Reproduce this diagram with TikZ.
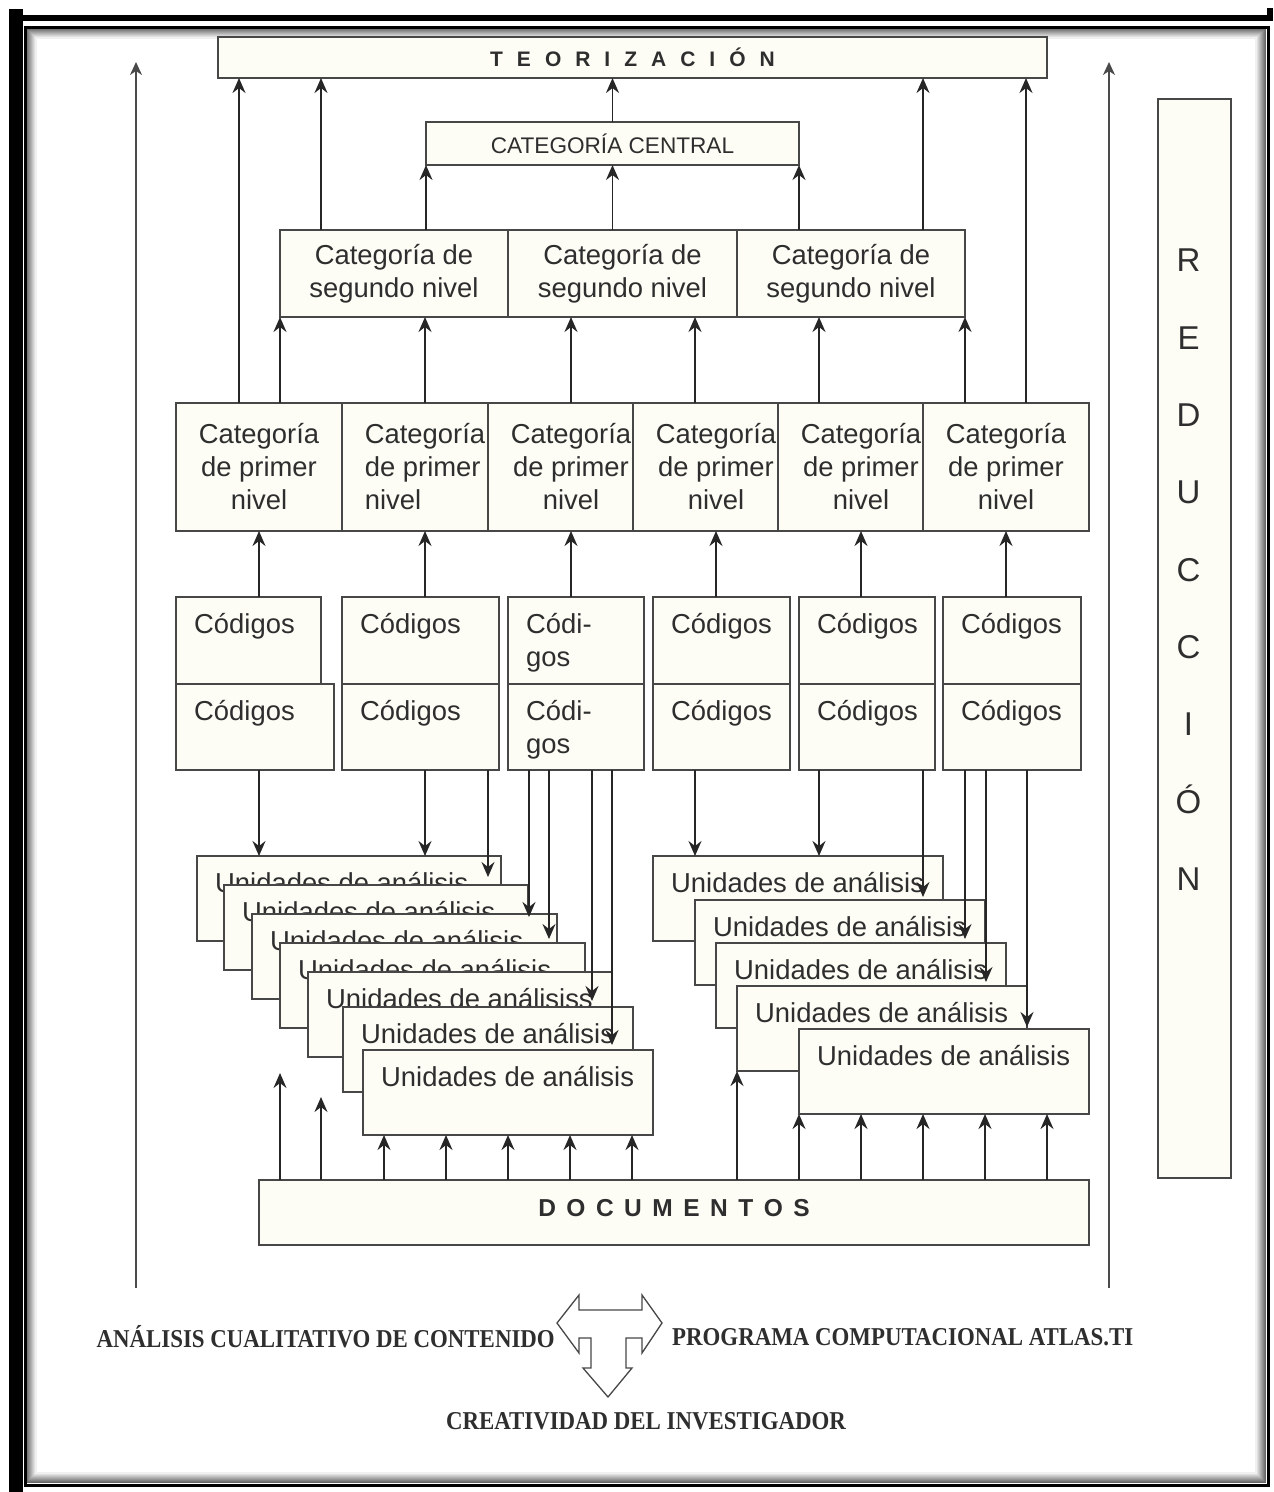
\documentclass[tikz,border=0pt]{standalone}
\usepackage{fontspec}
\setmainfont{Liberation Sans}
\newfontfamily\footserif{Liberation Serif}
\usepackage{graphicx}
\usepackage{tikz}
\usetikzlibrary{
  arrows.meta,
  positioning,
}
\definecolor{boxFill}{HTML}{FDFDF6}
\definecolor{boxLine}{HTML}{474747}
\definecolor{arrowCol}{HTML}{262626}
\definecolor{inkCol}{HTML}{2E2E2E}
\definecolor{guideCol}{HTML}{4A4A4A}
\newcommand\unitfont{\fontsize{27.4}{33}\selectfont}
\newcommand\titlefont{\fontsize{21}{25}\selectfont\bfseries}
\newcommand\centralfont{\fontsize{22.6}{26}\selectfont}
\newcommand\reducfont{\fontsize{33}{77.3}\selectfont}
\newcommand\footfont{\footserif\bfseries\fontsize{25.7}{30}\selectfont}
\tikzset{
  box/.style={
    rectangle, draw=boxLine, line width=2pt, fill=boxFill,
    inner sep=0pt, outer sep=0pt, anchor=north west,
    text=inkCol, align=center, font=\unitfont,
  },
  primbox/.style={box, minimum width=166pt, minimum height=128pt},
  segbox/.style={box, minimum height=87pt},
  codbox/.style={box, minimum height=87pt},
  cardbox/.style={box, minimum width=290pt, minimum height=85pt},
  boxTxt/.style={
    anchor=north west, inner xsep=18pt, inner ysep=16pt,
    align=left, font=\unitfont, text=inkCol,
  },
  reducTxt/.style={
    anchor=north, inner sep=0pt, yshift=-150pt, xshift=-6pt,
    align=center, font=\reducfont, text=inkCol,
  },
  arrowMed/.style={
    -{Stealth[length=15pt,width=13pt,inset=5pt]}, line width=1.9pt, draw=arrowCol,
  },
  arrowLong/.style={
    -{Stealth[length=13pt,width=12pt,inset=4pt]}, line width=1.4pt, draw=guideCol,
  },
  footTxt/.style={font=\footfont, text=inkCol, inner sep=0pt},
}

\begin{document}
\begin{tikzpicture}[x=1pt, y=-1pt]

% page and frame
\fill[white] (0,0) rectangle (1274,1492);
\fill[black] (9,9) rectangle (23,1492);
\fill[black] (9,15) rectangle (1273,21);
\fill[black] (1267,8) rectangle (1273,21);
\foreach \k in {1,...,10}{
  \pgfmathtruncatemacro\rimTone{66-6*\k}
  \draw[black!\rimTone, line width=1.2pt] (26+\k,28+\k) rectangle (1266-\k,1483-\k);
}
\draw[black, line width=3pt] (25,27) rectangle (1268,1485);

% top levels
\node[box, minimum width=829pt, minimum height=41pt, font=\titlefont] (teo) at (218,37)
  {{\spaceskip=14pt T E O R I Z A C I Ó N}};
\node[box, minimum width=373pt, minimum height=43pt, font=\centralfont] (central) at (426,122)
  {CATEGORÍA CENTRAL};

\node[segbox, minimum width=228pt] (seg1) at (280,230) {Categoría de\\segundo nivel};
\node[segbox, minimum width=229pt, right=0pt of seg1] (seg2) {Categoría de\\segundo nivel};
\node[segbox, minimum width=228pt, right=0pt of seg2] (seg3) {Categoría de\\segundo nivel};

\node[primbox] (prim1) at (176,403) {Categoría\\de primer\\nivel};
\node[primbox, align=left, right=0pt of prim1] (prim2) {Categoría\\de primer\\nivel};
\node[primbox, right=-20pt of prim2] (prim3) {Categoría\\de primer\\nivel};
\node[primbox, right=-21pt of prim3] (prim4) {Categoría\\de primer\\nivel};
\node[primbox, right=-21pt of prim4] (prim5) {Categoría\\de primer\\nivel};
\node[primbox, right=-21pt of prim5] (prim6) {Categoría\\de primer\\nivel};

% codes
\node[codbox, minimum width=145pt, label={[boxTxt]north west:Códigos}] (codA1) at (176,597) {};
\node[codbox, minimum width=157pt, label={[boxTxt]north west:Códigos}] (codA2) at (342,597) {};
\node[codbox, minimum width=136pt, label={[boxTxt]north west:{Códi-\\gos}}] (codA3) at (508,597) {};
\node[codbox, minimum width=137pt, label={[boxTxt]north west:Códigos}] (codA4) at (653,597) {};
\node[codbox, minimum width=136pt, label={[boxTxt]north west:Códigos}] (codA5) at (799,597) {};
\node[codbox, minimum width=138pt, label={[boxTxt]north west:Códigos}] (codA6) at (943,597) {};

\node[codbox, minimum width=158pt, minimum height=86pt, label={[boxTxt]north west:Códigos}] (codB1) at (codA1.south west) {};
\node[codbox, minimum width=157pt, minimum height=86pt, label={[boxTxt]north west:Códigos}] (codB2) at (codA2.south west) {};
\node[codbox, minimum width=136pt, minimum height=86pt, label={[boxTxt]north west:{Códi-\\gos}}] (codB3) at (codA3.south west) {};
\node[codbox, minimum width=137pt, minimum height=86pt, label={[boxTxt]north west:Códigos}] (codB4) at (codA4.south west) {};
\node[codbox, minimum width=136pt, minimum height=86pt, label={[boxTxt]north west:Códigos}] (codB5) at (codA5.south west) {};
\node[codbox, minimum width=138pt, minimum height=86pt, label={[boxTxt]north west:Códigos}] (codB6) at (codA6.south west) {};

% units of analysis, left stack
\node[cardbox, minimum width=304pt, label={[boxTxt]north west:Unidades de análisis}] (ua1) at (197,856) {};
\node[cardbox, minimum width=304pt, label={[boxTxt]north west:Unidades de análisis}] (ua2) at ([xshift=27pt,yshift=-29pt]ua1.north west) {};
\node[cardbox, minimum width=305pt, label={[boxTxt]north west:Unidades de análisis}] (ua3) at ([xshift=28pt,yshift=-29pt]ua2.north west) {};
\node[cardbox, minimum width=305pt, label={[boxTxt]north west:Unidades de análisis}] (ua4) at ([xshift=28pt,yshift=-29pt]ua3.north west) {};
\node[cardbox, minimum width=304pt, label={[boxTxt]north west:Unidades de análisiss}] (ua5) at ([xshift=28pt,yshift=-29pt]ua4.north west) {};
\node[cardbox, label={[boxTxt]north west:Unidades de análisis}] (ua6) at ([xshift=35pt,yshift=-35pt]ua5.north west) {};
\node[cardbox, label={[boxTxt]north west:Unidades de análisis}] (ua7) at ([xshift=20pt,yshift=-43pt]ua6.north west) {};

% units of analysis, right stack
\node[cardbox, label={[boxTxt]north west:Unidades de análisis}] (ubA) at (653,856) {};
\node[cardbox, label={[boxTxt]north west:Unidades de análisis}] (ubB) at ([xshift=42pt,yshift=-44pt]ubA.north west) {};
\node[cardbox, label={[boxTxt]north west:Unidades de análisis}] (ubC) at ([xshift=21pt,yshift=-43pt]ubB.north west) {};
\node[cardbox, label={[boxTxt]north west:Unidades de análisis}] (ubD) at ([xshift=21pt,yshift=-43pt]ubC.north west) {};
\node[cardbox, label={[boxTxt]north west:Unidades de análisis}] (ubE) at ([xshift=62pt,yshift=-43pt]ubD.north west) {};

\node[box, minimum width=830pt, minimum height=65pt, font=\titlefont\fontsize{24.5}{28}\selectfont] (docs) at (259,1180)
  {{\spaceskip=10.5pt D O C U M E N T O S}\\[-18pt]};
\node[box, minimum width=73pt, minimum height=1079pt,
      label={[reducTxt]north:{R\\E\\D\\U\\C\\C\\I\\Ó\\N}}] (reduc) at (1158,99) {};

% free ends
\coordinate (guideLtop) at (136,62);
\coordinate (guideLbot) at (136,1288);
\coordinate (guideRtop) at (1109,62);
\coordinate (guideRbot) at (1109,1288);
\coordinate (docEndA) at (280,1073);
\coordinate (docEndB) at (321,1097);

% upward: teorizacion and central category
\draw[arrowMed] (239,0 |- prim1.north) -- (239,0 |- teo.south);
\draw[arrowMed] (321,0 |- seg1.north) -- (321,0 |- teo.south);
\draw[arrowMed] (central.north) -- (central.north |- teo.south);
\draw[arrowMed] (923,0 |- seg3.north) -- (923,0 |- teo.south);
\draw[arrowMed] (1026,0 |- prim6.north) -- (1026,0 |- teo.south);
\draw[arrowMed] (central.south west |- seg1.north) -- (central.south west);
\draw[arrowMed] (central.south |- seg2.north) -- (central.south);
\draw[arrowMed] (central.south east |- seg3.north) -- (central.south east);

% upward: first level to second level
\draw[arrowMed] (seg1.south west |- prim1.north) -- (seg1.south west);
\draw[arrowMed] (prim2.north) -- (prim2.north |- seg1.south);
\draw[arrowMed] (prim3.north) -- (prim3.north |- seg2.south);
\draw[arrowMed] (695,0 |- prim4.north) -- (695,0 |- seg2.south);
\draw[arrowMed] (819,0 |- prim5.north) -- (819,0 |- seg3.south);
\draw[arrowMed] (seg3.south east |- prim6.north) -- (seg3.south east);

% upward: codes to first level
\draw[arrowMed] (prim1.south |- codA1.north) -- (prim1.south);
\draw[arrowMed] (prim2.south |- codA2.north) -- (prim2.south);
\draw[arrowMed] (prim3.south |- codA3.north) -- (prim3.south);
\draw[arrowMed] (prim4.south |- codA4.north) -- (prim4.south);
\draw[arrowMed] (prim5.south |- codA5.north) -- (prim5.south);
\draw[arrowMed] (prim6.south |- codA6.north) -- (prim6.south);

% downward: codes to units
\draw[arrowMed] (prim1.south |- codB1.south) -- (prim1.south |- ua1.north);
\draw[arrowMed] (prim2.south |- codB2.south) -- (prim2.south |- ua1.north);
\draw[arrowMed, shorten >=8pt] (488,0 |- codB2.south) -- (488,0 |- ua2.north);
\draw[arrowMed, shorten >=-3pt] (529,0 |- codB3.south) -- (529,0 |- ua3.north);
\draw[arrowMed, shorten >=4pt] (549,0 |- codB3.south) -- (549,0 |- ua4.north);
\draw[arrowMed, shorten >=6pt] (592,0 |- codB3.south) -- (592,0 |- ua6.north);
\draw[arrowMed, shorten >=5pt] (612,0 |- codB3.south) -- (612,0 |- ua7.north);
\draw[arrowMed] (695,0 |- codB4.south) -- (695,0 |- ubA.north);
\draw[arrowMed] (819,0 |- codB5.south) -- (819,0 |- ubA.north);
\draw[arrowMed, shorten >=3pt] (923,0 |- codB5.south) -- (923,0 |- ubB.north);
\draw[arrowMed, shorten >=4pt] (965,0 |- codB6.south) -- (965,0 |- ubC.north);
\draw[arrowMed, shorten >=4pt] (986,0 |- codB6.south) -- (986,0 |- ubD.north);
\draw[arrowMed, shorten >=2pt] (1027,0 |- codB6.south) -- (1027,0 |- ubE.north);

% upward: documents to units
\draw[arrowMed] (docEndA |- docs.north) -- (docEndA);
\draw[arrowMed] (docEndB |- docs.north) -- (docEndB);
\draw[arrowMed] (384,0 |- docs.north) -- (384,0 |- ua7.south);
\draw[arrowMed] (446,0 |- docs.north) -- (446,0 |- ua7.south);
\draw[arrowMed] (508,0 |- docs.north) -- (508,0 |- ua7.south);
\draw[arrowMed] (570,0 |- docs.north) -- (570,0 |- ua7.south);
\draw[arrowMed] (632,0 |- docs.north) -- (632,0 |- ua7.south);
\draw[arrowMed] (ubD.south west |- docs.north) -- (ubD.south west);
\draw[arrowMed] (ubE.south west |- docs.north) -- (ubE.south west);
\draw[arrowMed] (861,0 |- docs.north) -- (861,0 |- ubE.south);
\draw[arrowMed] (923,0 |- docs.north) -- (923,0 |- ubE.south);
\draw[arrowMed] (985,0 |- docs.north) -- (985,0 |- ubE.south);
\draw[arrowMed] (1047,0 |- docs.north) -- (1047,0 |- ubE.south);

% side guides
\draw[arrowLong] (guideLbot) -- (guideLtop);
\draw[arrowLong] (guideRbot) -- (guideRtop);

% footer
\draw[boxLine, line width=1.3pt, fill=white]
  (557,1323) -- (579,1295) -- (579,1310) -- (642,1310) -- (642,1295) -- (662,1323)
  -- (642,1353) -- (642,1338) -- (626,1338) -- (626,1368) -- (632,1368) -- (608,1397)
  -- (583,1368) -- (591,1368) -- (591,1338) -- (579,1338) -- (579,1353) -- cycle;
\node[footTxt, anchor=east] (fAnalisis) at (555,1337)
  {\scalebox{0.89}[1]{ANÁLISIS CUALITATIVO DE CONTENIDO}};
\node[footTxt, anchor=west] (fPrograma) at (672,1337)
  {\scalebox{0.89}[1]{PROGRAMA COMPUTACIONAL ATLAS.TI}};
\node[footTxt] (fCreatividad) at (646,1421)
  {\scalebox{0.89}[1]{CREATIVIDAD DEL INVESTIGADOR}};

\end{tikzpicture}
\end{document}
